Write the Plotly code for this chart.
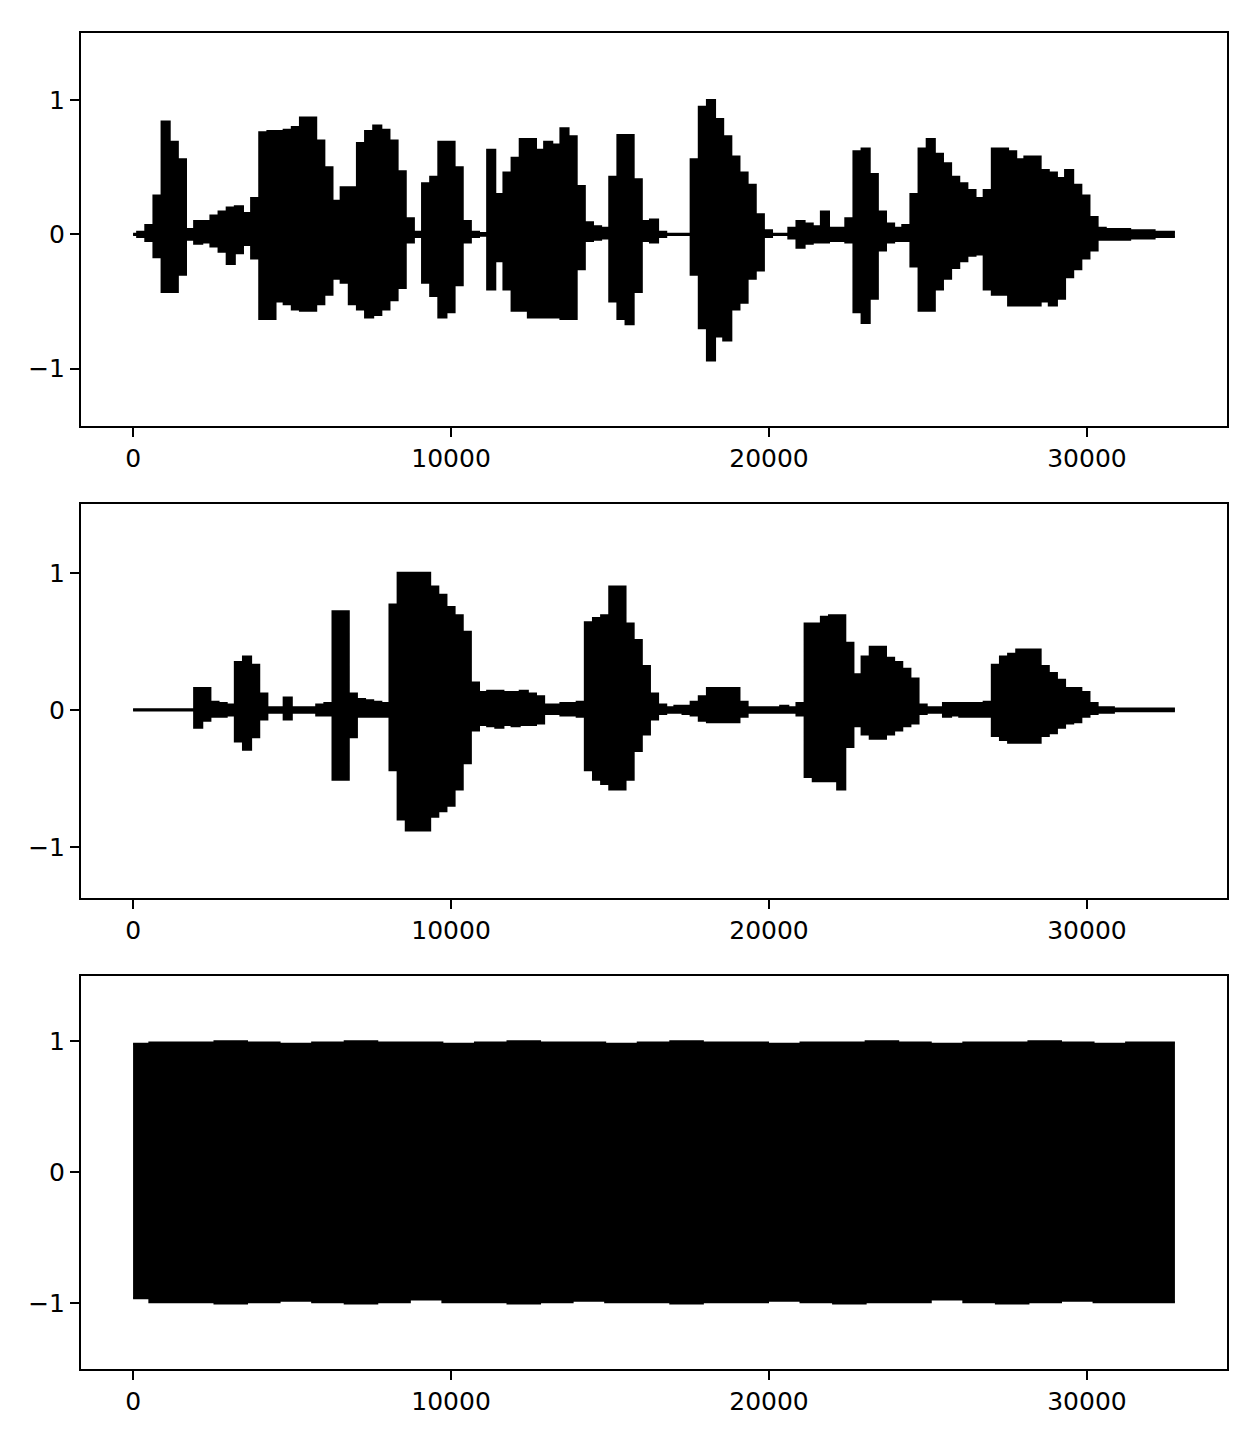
import numpy as np
import plotly.graph_objects as go
from plotly.subplots import make_subplots

N_SAMPLES = 32768
STEP = 256          # samples between envelope points, speech panels
NOISE_STEP = 1024   # samples between envelope points, noise panel

# speech clip 1: max / min of the waveform around every STEP samples
speech1_upper = [
    0.005, 0.02, 0.07, 0.29, 0.84, 0.69, 0.56, 0.04, 0.1, 0.1,
    0.14, 0.17, 0.2, 0.21, 0.16, 0.27, 0.76, 0.77, 0.77, 0.78,
    0.8, 0.87, 0.87, 0.7, 0.5, 0.25, 0.35, 0.35, 0.68, 0.77,
    0.81, 0.78, 0.7, 0.47, 0.12, 0.02, 0.38, 0.43, 0.69, 0.69,
    0.5, 0.1, 0.02, 0.01, 0.63, 0.3, 0.46, 0.57, 0.71, 0.71,
    0.63, 0.69, 0.67, 0.79, 0.73, 0.36, 0.09, 0.06, 0.05, 0.43,
    0.74, 0.74, 0.41, 0.1, 0.11, 0.02, 0.005, 0.005, 0.005, 0.56,
    0.95, 1.0, 0.86, 0.73, 0.58, 0.46, 0.37, 0.15, 0.03, 0.005,
    0.005, 0.05, 0.1, 0.08, 0.06, 0.17, 0.05, 0.05, 0.12, 0.62,
    0.64, 0.45, 0.17, 0.08, 0.05, 0.07, 0.3, 0.64, 0.71, 0.6,
    0.53, 0.43, 0.38, 0.33, 0.27, 0.33, 0.64, 0.64, 0.62, 0.56,
    0.58, 0.58, 0.48, 0.46, 0.42, 0.48, 0.37, 0.29, 0.13, 0.05,
    0.04, 0.04, 0.04, 0.03, 0.03, 0.03, 0.02, 0.02, 0.02,
]
speech1_lower = [
    -0.005, -0.02, -0.05, -0.17, -0.43, -0.43, -0.3, -0.04, -0.07, -0.06,
    -0.09, -0.13, -0.22, -0.14, -0.08, -0.18, -0.63, -0.63, -0.5, -0.52,
    -0.56, -0.57, -0.57, -0.52, -0.45, -0.33, -0.36, -0.52, -0.56, -0.62,
    -0.6, -0.56, -0.49, -0.4, -0.06, -0.02, -0.36, -0.46, -0.62, -0.58,
    -0.38, -0.06, -0.02, -0.01, -0.41, -0.2, -0.41, -0.57, -0.57, -0.62,
    -0.62, -0.62, -0.62, -0.63, -0.63, -0.26, -0.05, -0.04, -0.03, -0.5,
    -0.63, -0.67, -0.43, -0.05, -0.06, -0.02, -0.005, -0.005, -0.005, -0.3,
    -0.7, -0.94, -0.76, -0.79, -0.56, -0.51, -0.33, -0.27, -0.02, -0.005,
    -0.005, -0.03, -0.1, -0.07, -0.06, -0.06, -0.05, -0.05, -0.06, -0.58,
    -0.66, -0.48, -0.12, -0.06, -0.05, -0.05, -0.24, -0.57, -0.57, -0.41,
    -0.33, -0.25, -0.2, -0.16, -0.15, -0.41, -0.45, -0.45, -0.53, -0.53,
    -0.53, -0.53, -0.5, -0.53, -0.48, -0.32, -0.26, -0.18, -0.12, -0.04,
    -0.04, -0.04, -0.04, -0.03, -0.03, -0.03, -0.02, -0.02, -0.02,
]

# speech clip 2
speech2_upper = [
    0.005, 0.005, 0.005, 0.005, 0.005, 0.005, 0.005, 0.005, 0.16, 0.16,
    0.06, 0.05, 0.04, 0.35, 0.39, 0.33, 0.12, 0.02, 0.02, 0.09,
    0.02, 0.02, 0.02, 0.04, 0.05, 0.72, 0.72, 0.12, 0.08, 0.07,
    0.06, 0.05, 0.77, 1.0, 1.0, 1.0, 1.0, 0.9, 0.84, 0.75,
    0.69, 0.57, 0.2, 0.13, 0.14, 0.14, 0.13, 0.13, 0.14, 0.12,
    0.1, 0.04, 0.04, 0.05, 0.05, 0.06, 0.64, 0.67, 0.69, 0.9,
    0.9, 0.63, 0.51, 0.32, 0.12, 0.04, 0.02, 0.03, 0.03, 0.06,
    0.1, 0.16, 0.16, 0.16, 0.16, 0.06, 0.02, 0.02, 0.02, 0.02,
    0.03, 0.02, 0.05, 0.63, 0.63, 0.68, 0.69, 0.69, 0.49, 0.26,
    0.39, 0.46, 0.46, 0.38, 0.35, 0.3, 0.23, 0.04, 0.02, 0.02,
    0.05, 0.05, 0.05, 0.05, 0.05, 0.06, 0.33, 0.39, 0.41, 0.44,
    0.44, 0.44, 0.32, 0.27, 0.22, 0.16, 0.16, 0.13, 0.05, 0.02,
    0.02, 0.01, 0.01, 0.01, 0.01, 0.01, 0.01, 0.01, 0.01,
]
speech2_lower = [
    -0.005, -0.005, -0.005, -0.005, -0.005, -0.005, -0.005, -0.005, -0.13, -0.08,
    -0.05, -0.05, -0.04, -0.23, -0.29, -0.2, -0.07, -0.02, -0.02, -0.07,
    -0.02, -0.02, -0.02, -0.04, -0.04, -0.51, -0.51, -0.2, -0.05, -0.05,
    -0.05, -0.05, -0.44, -0.8, -0.88, -0.88, -0.88, -0.78, -0.74, -0.7,
    -0.58, -0.39, -0.15, -0.11, -0.12, -0.13, -0.11, -0.12, -0.11, -0.11,
    -0.1, -0.03, -0.03, -0.04, -0.04, -0.05, -0.44, -0.51, -0.54, -0.58,
    -0.58, -0.51, -0.3, -0.18, -0.07, -0.03, -0.02, -0.02, -0.03, -0.04,
    -0.08, -0.09, -0.09, -0.09, -0.09, -0.05, -0.02, -0.02, -0.02, -0.02,
    -0.02, -0.02, -0.04, -0.49, -0.52, -0.52, -0.52, -0.58, -0.27, -0.12,
    -0.18, -0.21, -0.21, -0.18, -0.15, -0.12, -0.1, -0.03, -0.02, -0.02,
    -0.05, -0.04, -0.05, -0.05, -0.05, -0.05, -0.19, -0.22, -0.24, -0.24,
    -0.24, -0.24, -0.19, -0.17, -0.13, -0.1, -0.09, -0.05, -0.03, -0.02,
    -0.02, -0.01, -0.01, -0.01, -0.01, -0.01, -0.01, -0.01, -0.01,
]

# white-noise clip, full scale all the way
noise_upper = [
    0.98, 0.99, 0.99, 1.0, 0.99, 0.98, 0.99, 1.0, 0.99, 0.99,
    0.98, 0.99, 1.0, 0.99, 0.99, 0.98, 0.99, 1.0, 0.99, 0.99,
    0.98, 0.99, 0.99, 1.0, 0.99, 0.98, 0.99, 0.99, 1.0, 0.99,
    0.98, 0.99, 0.99,
]
noise_lower = [
    -0.96, -0.99, -0.99, -1.0, -0.99, -0.98, -0.99, -1.0, -0.99, -0.97,
    -0.99, -0.99, -1.0, -0.99, -0.98, -0.99, -0.99, -1.0, -0.99, -0.99,
    -0.98, -0.99, -1.0, -0.99, -0.99, -0.97, -0.99, -1.0, -0.99, -0.98,
    -0.99, -0.99, -0.99,
]

x_ticks = [0, 10000, 20000, 30000]
y_ticks = [-1, 0, 1]
y_ranges = [[-1.43, 1.5], [-1.37, 1.5], [-1.5, 1.5]]


def envelope_traces(upper, lower, step):
    # upper edge as a plain step line, lower edge filled up to it
    x = np.minimum(np.arange(len(upper)) * step, N_SAMPLES - 1)
    line = dict(color='black', width=2, shape='hvh')
    top = go.Scatter(x=x, y=upper, mode='lines', line=line,
                     hoverinfo='skip', showlegend=False)
    bottom = go.Scatter(x=x, y=lower, mode='lines', line=line,
                        fill='tonexty', fillcolor='black',
                        hoverinfo='skip', showlegend=False)
    return [top, bottom]


fig = make_subplots(rows=3, cols=1, vertical_spacing=0.0584)

for tr in envelope_traces(speech1_upper, speech1_lower, STEP):
    fig.add_trace(tr, row=1, col=1)
for tr in envelope_traces(speech2_upper, speech2_lower, STEP):
    fig.add_trace(tr, row=2, col=1)
for tr in envelope_traces(noise_upper, noise_lower, NOISE_STEP):
    fig.add_trace(tr, row=3, col=1)

axis_style = dict(showline=True, mirror=True, linecolor='black', linewidth=2,
                  ticks='outside', ticklen=9, tickwidth=2, tickcolor='black',
                  showgrid=False, zeroline=False,
                  tickfont=dict(family='DejaVu Sans', size=25, color='black'))

for i in range(3):
    fig.update_xaxes(range=[-1638, 34405], tickvals=x_ticks, tickformat='d',
                     row=i + 1, col=1, **axis_style)
    fig.update_yaxes(range=y_ranges[i], tickvals=y_ticks,
                     row=i + 1, col=1, **axis_style)

# the page body adds 8px, so the margins are shifted to keep the boxes in place
fig.update_layout(width=1260, height=1440,
                  margin=dict(l=73, r=41, t=25, b=79),
                  plot_bgcolor='white', paper_bgcolor='white',
                  showlegend=False)

fig.write_html("out.html")
